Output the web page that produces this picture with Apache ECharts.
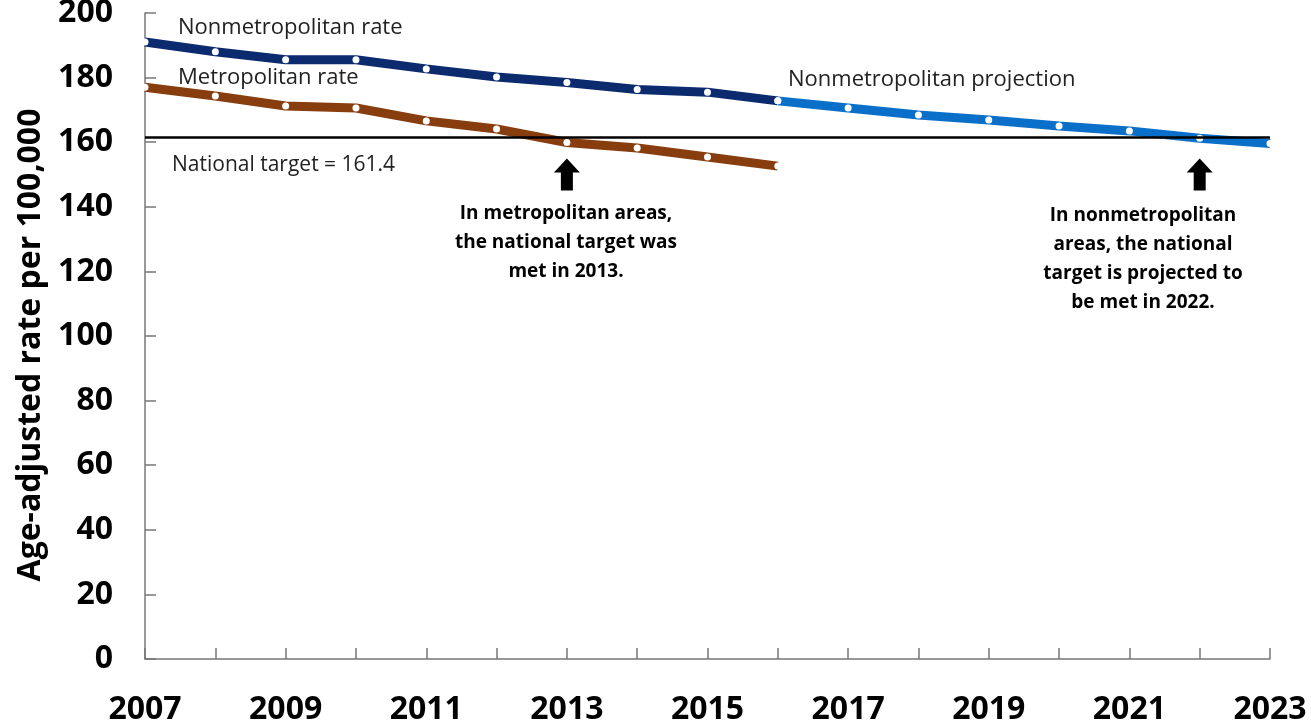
<!DOCTYPE html>
<html><head><meta charset="utf-8">
<script src="https://cdn.jsdelivr.net/npm/echarts@6/dist/echarts.min.js"></script>
<style>html,body{margin:0;padding:0;background:#fff}#c{width:1311px;height:725px}</style>
</head><body><div id="c"></div>
<script>
var years = ['2007','2008','2009','2010','2011','2012','2013','2014','2015','2016','2017','2018','2019','2020','2021','2022','2023'];
var yTicks = [0,20,40,60,80,100,120,140,160,180,200];
var nonmetroRate = [191,188,185.5,185.5,182.7,180.2,178.5,176.3,175.5,172.8,null,null,null,null,null,null,null];
var metroRate = [177,174.3,171.2,170.6,166.6,164.1,159.9,158.2,155.4,152.6,null,null,null,null,null,null,null];
var nonmetroProjection = [null,null,null,null,null,null,null,null,null,172.8,170.6,168.4,166.9,165,163.5,161.2,159.6];
var nationalTarget = 161.4;
var arrowYears = ['2013','2022'];
var arrowValue = 150;

var FONT = '"Open Sans", "Noto Sans", sans-serif';
var chart = echarts.init(document.getElementById('c'));
var arrowPath = 'path://M13,0 L26,14 L19,14 L19,32 L7,32 L7,14 L0,14 Z';

function lineSeries(name, data, color, z) {
  return {
    name: name, type: 'line', data: data, z: z,
    symbol: 'circle', symbolSize: 7, showSymbol: true,
    itemStyle: { color: '#fff', borderWidth: 0 },
    lineStyle: { color: color, width: 9 },
    connectNulls: false, silent: true, animation: false
  };
}

chart.setOption({
  animation: false,
  grid: { left: 145, right: 41, top: 13, bottom: 66, containLabel: false, outerBoundsMode: 'none' },
  xAxis: {
    type: 'category', data: years, boundaryGap: false,
    axisLine: { lineStyle: { color: '#777', width: 1.5 } },
    axisTick: { inside: true, length: 11, interval: 0, lineStyle: { color: '#777', width: 1.5 } },
    axisLabel: { interval: 1, margin: 35, fontSize: 32, fontWeight: 'bold', color: '#000', fontFamily: FONT }
  },
  yAxis: {
    type: 'value', min: yTicks[0], max: yTicks[yTicks.length - 1], interval: yTicks[1] - yTicks[0],
    splitLine: { show: false },
    axisLine: { show: true, lineStyle: { color: '#777', width: 1.5 } },
    axisTick: { show: true, inside: true, length: 11, lineStyle: { color: '#777', width: 1.5 } },
    axisLabel: { margin: 32, fontSize: 32, fontWeight: 'bold', color: '#000', fontFamily: FONT },
    name: 'Age-adjusted rate per 100,000', nameLocation: 'middle', nameGap: 97,
    nameTextStyle: { fontSize: 32, fontWeight: 'bold', color: '#000', fontFamily: FONT, padding: [0, 18, 0, 0] }
  },
  series: [
    lineSeries('Nonmetropolitan rate', nonmetroRate, '#0c2a6e', 3),
    lineSeries('Nonmetropolitan projection', nonmetroProjection, '#0a6fc8', 3),
    lineSeries('Metropolitan rate', metroRate, '#883d0e', 3),
    {
      name: 'target', type: 'line', data: [], z: 5, silent: true,
      markLine: {
        silent: true, symbol: 'none', label: { show: false },
        lineStyle: { color: '#000', width: 2.5, type: 'solid' },
        data: [{ yAxis: nationalTarget }]
      },
      markPoint: {
        silent: true, symbol: arrowPath, symbolSize: [26, 32],
        itemStyle: { color: '#000' }, label: { show: false },
        data: arrowYears.map(function (y) { return { coord: [y, arrowValue] }; })
      }
    }
  ],
  graphic: [
    { type: 'text', left: 178, top: 17, style: { text: 'Nonmetropolitan rate', font: '22px ' + FONT, fill: '#222' } },
    { type: 'text', left: 178, top: 67, style: { text: 'Metropolitan rate', font: '22px ' + FONT, fill: '#222' } },
    { type: 'text', left: 172, top: 155, style: { text: 'National target = 161.4', font: '21px ' + FONT, fill: '#222' } },
    { type: 'text', left: 788, top: 69, style: { text: 'Nonmetropolitan projection', font: '22px ' + FONT, fill: '#222' } },
    { type: 'text', x: 566, y: 199, style: { text: 'In metropolitan areas,\nthe national target was\nmet in 2013.', font: 'bold 19px ' + FONT, fill: '#000', align: 'center', lineHeight: 29 } },
    { type: 'text', x: 1143, y: 201, style: { text: 'In nonmetropolitan\nareas, the national\ntarget is projected to\nbe met in 2022.', font: 'bold 19px ' + FONT, fill: '#000', align: 'center', lineHeight: 29 } }
  ]
});
</script></body></html>
